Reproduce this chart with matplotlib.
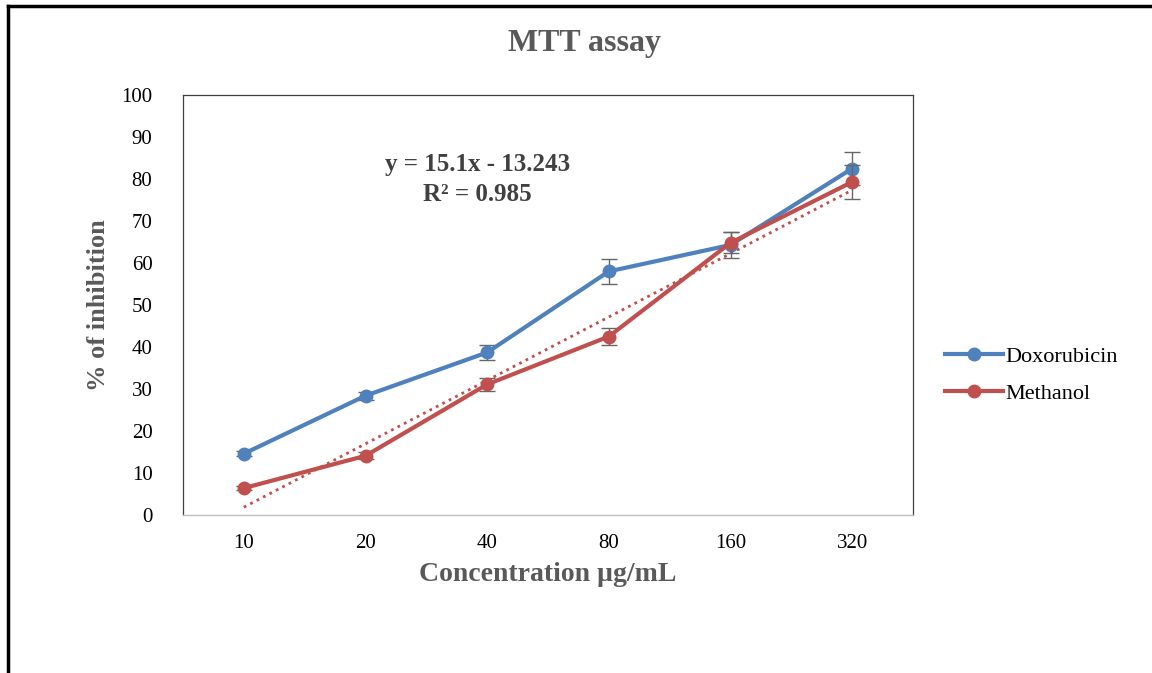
import numpy as np
import matplotlib
matplotlib.use('Agg')
from matplotlib import pyplot as plt
from matplotlib.lines import Line2D

# data
concentrations = ['10', '20', '40', '80', '160', '320']
doxorubicin = [14.6, 28.4, 38.7, 58.0, 64.3, 82.5]
doxorubicin_err = [0.6, 1.0, 1.8, 3.0, 3.0, 4.0]
methanol = [6.4, 14.1, 31.1, 42.5, 64.8, 79.3]
methanol_err = [0.5, 0.8, 1.6, 2.0, 2.5, 4.0]
slope = 15.1
intercept = -13.243
r_squared = 0.985

blue = '#4F81BD'
red = '#C0504D'
gray_text = '#595959'
serif = ['Liberation Serif', 'DejaVu Serif']

plt.rcParams['font.family'] = serif

fig = plt.figure(figsize=(11.52, 6.73), dpi=100)
ax = fig.add_axes([183 / 1152, 1 - 515 / 673, 730 / 1152, 420 / 673])

x = np.arange(len(concentrations))

ax.errorbar(x, doxorubicin, yerr=doxorubicin_err, color=blue, lw=3,
            marker='o', ms=9, ecolor='#666666', elinewidth=1, capsize=6,
            capthick=1, label='Doxorubicin', zorder=3)
ax.errorbar(x, methanol, yerr=methanol_err, color=red, lw=3,
            marker='o', ms=9, ecolor='#666666', elinewidth=1, capsize=6,
            capthick=1, label='Methanol', zorder=4)

# linear trendline for methanol (Excel style, x = 1..n)
trend = slope * (x + 1) + intercept
ax.plot(x, trend, color=red, lw=2, ls=(0, (1, 1.6)), zorder=2)

ax.text(1.92, 83.5, 'y = 15.1x - 13.243', ha='center', va='center',
        fontsize=18, fontweight='bold', color='#404040')
ax.text(1.92, 76.2, 'R\u00b2 = %.3f' % r_squared, ha='center', va='center',
        fontsize=18, fontweight='bold', color='#404040')

ax.set_xlim(-0.5, len(concentrations) - 0.5)
ax.set_ylim(0, 100)
ax.set_yticks(np.arange(0, 101, 10))
ax.set_xticks(x)
ax.set_xticklabels(concentrations)
ax.tick_params(axis='both', length=0, labelsize=15, colors='black')
ax.tick_params(axis='y', pad=22)
ax.tick_params(axis='x', pad=14)

for side in ['left', 'top', 'right']:
    ax.spines[side].set_color('#404040')
    ax.spines[side].set_linewidth(0.9)
ax.spines['bottom'].set_color('#bfbfbf')
ax.spines['bottom'].set_linewidth(1)

ax.set_xlabel('Concentration \u00b5g/mL', fontsize=20, fontweight='bold',
              color=gray_text, labelpad=6)
ax.set_ylabel('% of inhibition', fontsize=19, fontweight='bold',
              color=gray_text, labelpad=8)

fig.text(585 / 1152, 1 - 44 / 673, 'MTT assay', ha='center', va='center',
         fontsize=23, fontweight='bold', color=gray_text)

handles = [Line2D([], [], color=blue, lw=3, marker='o', ms=9),
           Line2D([], [], color=red, lw=3, marker='o', ms=9)]
fig.legend(handles, ['Doxorubicin', 'Methanol'], loc='center left',
           bbox_to_anchor=(925 / 1152, 1 - 375 / 673), frameon=False,
           fontsize=16, handlelength=2.6, handletextpad=0.1, labelspacing=0.75)

# outer border (left and top only, as in the source image)
fig.add_artist(Line2D([8 / 1152, 8 / 1152], [0, 1 - 6 / 673], color='black',
                      lw=2.5, transform=fig.transFigure))
fig.add_artist(Line2D([8 / 1152, 1150 / 1152], [1 - 6 / 673, 1 - 6 / 673],
                      color='black', lw=2.5, transform=fig.transFigure))

fig.savefig('out.png', dpi=100)
